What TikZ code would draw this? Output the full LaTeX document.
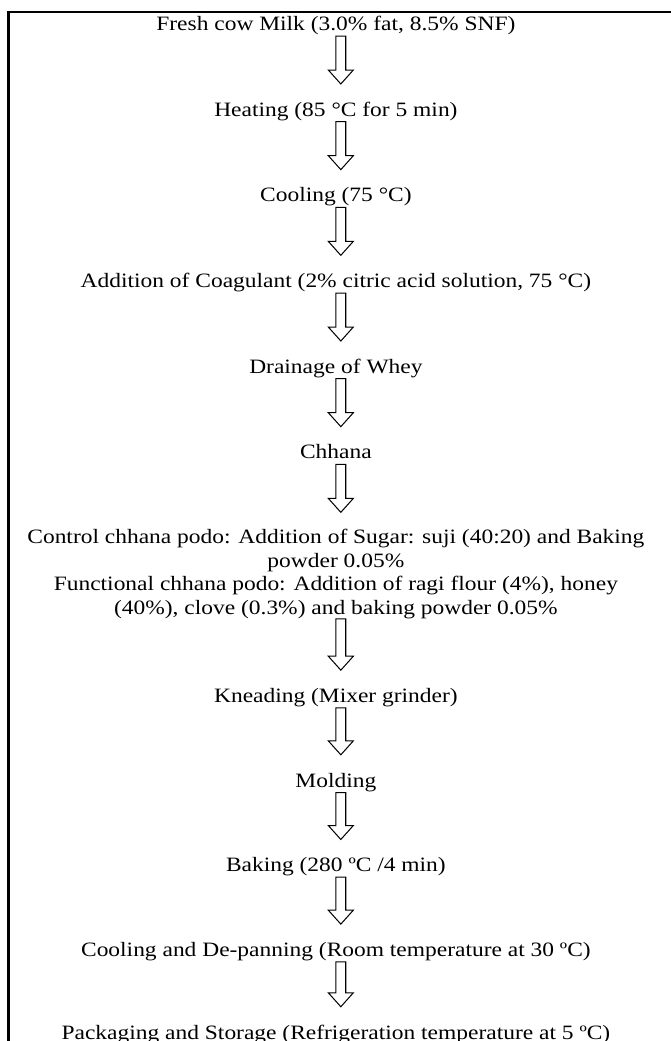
\documentclass[tikz,border=0pt]{standalone}
\usepackage{fontspec}
\setmainfont{Liberation Serif}[FakeStretch=1.15]
\usetikzlibrary{calc,positioning}

\begin{document}
\begin{tikzpicture}[
    every node/.style={font=\fontsize{12}{13.8}\selectfont},
    stage/.style={
      inner sep=0pt, align=center,
      text height=9pt, text depth=3pt
    },
    multistage/.style={
      inner sep=0pt, align=center
    },
    frame/.style={line width=1.2pt, black},
    flowarrow/.style={
      draw=black, line width=0.6pt, fill=white,
      to path={let \p1=(\tikztostart.south), \p2=(\tikztotarget.north) in
        (\x1,\y1) -- (\x1,\y2+18pt) -- (\x1-4.45pt,\y2+18pt)
        -- (\x1+2.9pt,\y2+9.8pt) -- (\x1+10.25pt,\y2+18pt)
        -- (\x1+5.8pt,\y2+18pt) -- (\x1+5.8pt,\y1) -- cycle}
    }
  ]

    \useasboundingbox (0,0) rectangle (394.7pt,-612.4pt);
    \draw[frame] (5pt,-612.4pt) |- (394.7pt,-7pt);

    \node[stage] (milk) at (197.6pt,-15pt) {Fresh cow Milk (3.0\% fat, 8.5\% SNF)};
    \node[stage, below=38pt of milk] (heating) {Heating (85 °C for 5 min)};
    \node[stage, below=38pt of heating] (cooling) {Cooling (75 °C)};
    \node[stage, below=38pt of cooling] (coagulant)
      {Addition of Coagulant (2\% citric acid solution, 75 °C)};
    \node[stage, below=38pt of coagulant] (drainage) {Drainage of Whey};
    \node[stage, below=38pt of drainage] (chhana) {Chhana};
    \node[multistage, below=38pt of chhana] (mixing)
      {Control chhana podo: Addition of Sugar: suji (40:20) and Baking\\
       powder 0.05\%\\
       Functional chhana podo: Addition of ragi flour (4\%), honey\\
       (40\%), clove (0.3\%) and baking powder 0.05\%};
    \node[stage, below=40pt of mixing] (kneading) {Kneading (Mixer grinder)};
    \node[stage, below=37.4pt of kneading] (molding) {Molding};
    \node[stage, below=37.4pt of molding] (baking) {Baking (280 ºC /4 min)};
    \node[stage, below=37.4pt of baking] (depanning)
      {Cooling and De-panning (Room temperature at 30 ºC)};
    \node[stage, below=36.2pt of depanning] (packaging)
      {Packaging and Storage (Refrigeration temperature at 5 ºC)};

    \draw[flowarrow] (milk)      to (heating);
    \draw[flowarrow] (heating)   to (cooling);
    \draw[flowarrow] (cooling)   to (coagulant);
    \draw[flowarrow] (coagulant) to (drainage);
    \draw[flowarrow] (drainage)  to (chhana);
    \draw[flowarrow] (chhana)    to (mixing);
    \draw[flowarrow] (mixing)    to (kneading);
    \draw[flowarrow] (kneading)  to (molding);
    \draw[flowarrow] (molding)   to (baking);
    \draw[flowarrow] (baking)    to (depanning);
    \draw[flowarrow] (depanning) to (packaging);

  \end{tikzpicture}
\end{document}
